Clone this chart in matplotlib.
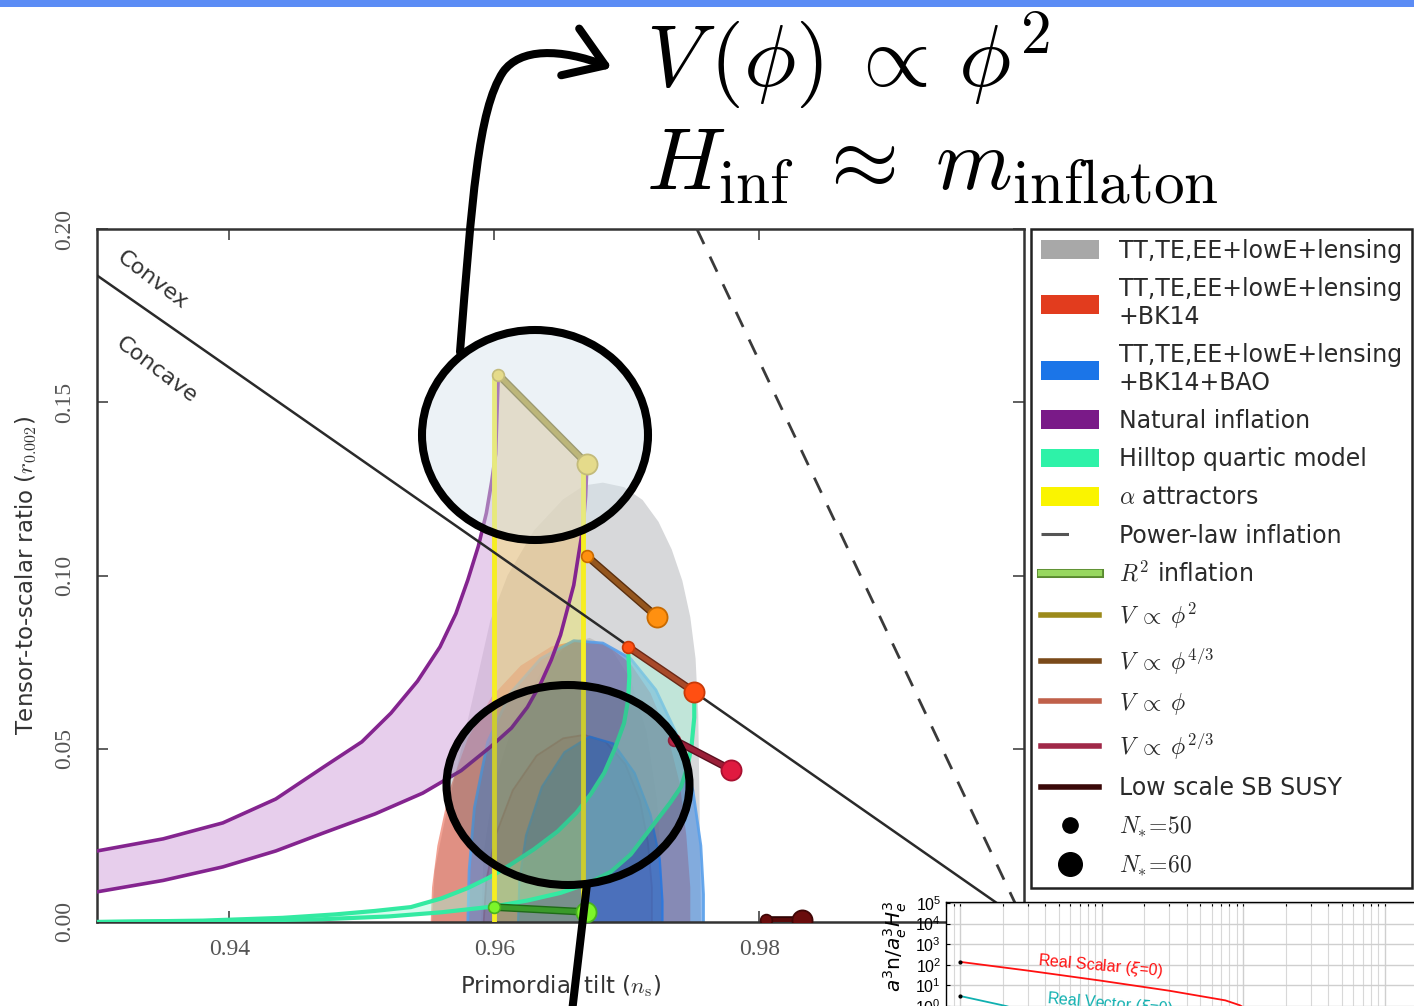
import matplotlib
matplotlib.use('Agg')
import matplotlib.pyplot as plt
from matplotlib.patches import Ellipse, Patch, FancyArrowPatch, Rectangle
from matplotlib.lines import Line2D
from matplotlib.path import Path
import matplotlib.patheffects as pe
from matplotlib.ticker import NullLocator, FixedLocator

plt.rcParams['mathtext.fontset'] = 'cm'
plt.rcParams['font.family'] = ['DejaVu Sans']

W, H = 1414, 1006

# ---------------- data ----------------
x_ticks = [0.94, 0.96, 0.98]
y_ticks = [0.00, 0.05, 0.10, 0.15, 0.20]

gray95_ns = [0.9553, 0.9555, 0.9563, 0.9572, 0.9584, 0.9597, 0.9610, 0.9630, 0.9652, 0.9668,
             0.9682, 0.9698, 0.9712, 0.9724, 0.9734, 0.9742, 0.9748, 0.9752, 0.9754, 0.9755, 0.9756]
gray95_r = [0.000, 0.015, 0.030, 0.045, 0.065, 0.087, 0.100, 0.113, 0.122, 0.1260,
            0.1268, 0.1255, 0.1218, 0.1155, 0.1075, 0.0985, 0.0880, 0.0760, 0.0600, 0.0350, 0.000]
gray68_ns = [0.9590, 0.9592, 0.9600, 0.9615, 0.9635, 0.9655, 0.9672, 0.9688, 0.9703, 0.9715, 0.9723, 0.9726, 0.9727]
gray68_r = [0.000, 0.020, 0.040, 0.058, 0.072, 0.080, 0.082, 0.079, 0.070, 0.055, 0.035, 0.015, 0.000]

red95_ns = [0.9552, 0.9553, 0.9557, 0.9566, 0.9580, 0.9598, 0.9620, 0.9643, 0.9665,
            0.9685, 0.9703, 0.9718, 0.9731, 0.9740, 0.9745, 0.9748, 0.9748]
red95_r = [0.000, 0.010, 0.022, 0.038, 0.053, 0.065, 0.074, 0.0795, 0.0815,
           0.0800, 0.0745, 0.066, 0.054, 0.040, 0.025, 0.010, 0.000]
red68_ns = [0.9592, 0.9594, 0.9601, 0.9614, 0.9632, 0.9652, 0.9668, 0.9684, 0.9699, 0.9710, 0.9716, 0.9719, 0.9719]
red68_r = [0.000, 0.012, 0.025, 0.038, 0.048, 0.0530, 0.0540, 0.0520, 0.0455, 0.0350, 0.0230, 0.010, 0.000]

blue95_ns = [0.9580, 0.9581, 0.9585, 0.9595, 0.9612, 0.9635, 0.9660, 0.9682, 0.9703,
             0.9722, 0.9738, 0.9750, 0.9756, 0.9758, 0.9758]
blue95_r = [0.000, 0.015, 0.033, 0.052, 0.066, 0.076, 0.0812, 0.0805, 0.0760,
            0.0670, 0.0540, 0.0380, 0.0220, 0.008, 0.000]
blue68_ns = [0.9618, 0.9619, 0.9624, 0.9636, 0.9653, 0.9672, 0.9690, 0.9706, 0.9718, 0.9725, 0.9727, 0.9727]
blue68_r = [0.000, 0.012, 0.025, 0.039, 0.049, 0.0535, 0.0515, 0.0430, 0.0310, 0.0180, 0.006, 0.000]

nat50_ns = [0.9300, 0.9350, 0.9395, 0.9435, 0.9471, 0.9500, 0.9522, 0.9542, 0.9559, 0.9571,
            0.9580, 0.9588, 0.9594, 0.9598, 0.9601, 0.9603]
nat50_r = [0.0205, 0.0240, 0.0286, 0.0355, 0.0447, 0.0520, 0.0603, 0.0695, 0.0794, 0.0890,
           0.0987, 0.1085, 0.1180, 0.1270, 0.1350, 0.1580]
nat60_ns = [0.9300, 0.9350, 0.9395, 0.9435, 0.9471, 0.9510, 0.9546, 0.9575, 0.9597, 0.9613,
            0.9625, 0.9635, 0.9643, 0.9650, 0.9655, 0.9660, 0.9663, 0.9667, 0.9669, 0.9670]
nat60_r = [0.0087, 0.0120, 0.0159, 0.0205, 0.0257, 0.0312, 0.0372, 0.0437, 0.0505, 0.0560,
           0.0620, 0.0688, 0.0756, 0.0828, 0.0900, 0.0972, 0.1045, 0.1140, 0.1230, 0.1322]

hillA_ns = [0.9300, 0.9380, 0.9440, 0.9480, 0.9510, 0.9537, 0.9560, 0.9580, 0.9597, 0.9612,
            0.9630, 0.9648, 0.9662, 0.9673, 0.9683, 0.9691, 0.9698, 0.9701, 0.9702, 0.9701]
hillA_r = [0.0000, 0.0004, 0.0012, 0.0022, 0.0032, 0.0043, 0.0068, 0.0098, 0.0130, 0.0165,
           0.0210, 0.0262, 0.0315, 0.0370, 0.0430, 0.0500, 0.0574, 0.0640, 0.0710, 0.0794]
hillB_ns = [0.9300, 0.9400, 0.9470, 0.9520, 0.9560, 0.9600, 0.9625, 0.9650, 0.9670, 0.9688,
            0.9703, 0.9713, 0.9724, 0.9733, 0.9741, 0.9746, 0.9749, 0.9751, 0.9751]
hillB_r = [0.0000, 0.0003, 0.0008, 0.0016, 0.0028, 0.0045, 0.0062, 0.0084, 0.0110, 0.0145,
           0.0195, 0.0245, 0.0300, 0.0345, 0.0390, 0.0450, 0.0510, 0.0590, 0.0664]

alpha_ns = [0.9600, 0.9667]

convex_ns = [0.93, 1.00]
convex_r = [0.1866, 0.0]
powerlaw_ns = [0.9753, 1.00]
powerlaw_r = [0.20, 0.0]

# models: (ns, r) at N*=50 and N*=60
phi2_ns, phi2_r = [0.9603, 0.9670], [0.1580, 0.1322]
phi43_ns, phi43_r = [0.9670, 0.9723], [0.1056, 0.0880]
phi1_ns, phi1_r = [0.9701, 0.9751], [0.0794, 0.0664]
phi23_ns, phi23_r = [0.9736, 0.9779], [0.0525, 0.0439]
r2_ns, r2_r = [0.9600, 0.9669], [0.0043, 0.0029]
susy_ns, susy_r = [0.9805, 0.9832], [0.0006, 0.0006]

legend_labels = ['TT,TE,EE+lowE+lensing', 'TT,TE,EE+lowE+lensing\n+BK14',
                 'TT,TE,EE+lowE+lensing\n+BK14+BAO', 'Natural inflation',
                 'Hilltop quartic model', r'$\alpha$ attractors', 'Power-law inflation',
                 r'$R^2$ inflation', r'$V\;\propto\;\phi^2$', r'$V\;\propto\;\phi^{4/3}$',
                 r'$V\;\propto\;\phi$', r'$V\;\propto\;\phi^{2/3}$', 'Low scale SB SUSY',
                 r'$N_{*}\!=\!50$', r'$N_{*}\!=\!60$']

# inset (bottom right)
scal_x = [1, 3, 9.7, 30, 75, 95, 200]
scal_y = [140, 53, 17.5, 5.6, 1.9, 1.1, 0.05]
vec_x = [1, 2.13, 5]
vec_y = [3.1, 1.0, 0.15]
inset_yticks = [1e-3, 1e-2, 1e-1, 1e0, 1e1, 1e2, 1e3, 1e4, 1e5]

# ---------------- figure ----------------
fig = plt.figure(figsize=(W / 100, H / 100), dpi=100)
ax = fig.add_axes([97 / W, 1 - 922 / H, 927 / W, 693 / H])
ax.set_xlim(0.93, 1.0)
ax.set_ylim(0, 0.2)

def contour(ns, r, fc, alpha, ec=None, lw=1.2, z=1, ealpha=0.9):
    ax.fill(ns, r, fc=fc, alpha=alpha, ec='none', lw=0, zorder=z)
    if ec:
        ax.plot(ns, r, color=ec, lw=lw, alpha=ealpha, zorder=z)

contour(gray95_ns, gray95_r, '#b6b8bc', 0.55, z=1)
contour(gray68_ns, gray68_r, '#9a9a9a', 0.35, z=1)
contour(red95_ns, red95_r, '#e8563c', 0.55, z=1.1)
contour(red68_ns, red68_r, '#d83a20', 0.35, ec='#c8402a', lw=1.3, z=1.2)
contour(blue95_ns, blue95_r, '#3d86e0', 0.55, ec='#5aa0ea', lw=2.0, z=1.3)
contour(blue68_ns, blue68_r, '#1e6ad0', 0.55, ec='#2a78e0', lw=1.6, z=1.4)

# natural inflation band
ax.fill(nat50_ns + nat60_ns[::-1], nat50_r + nat60_r[::-1], fc='#d8aee0', alpha=0.6, ec='none', zorder=2)
ax.plot(nat50_ns, nat50_r, color='#84248f', lw=2.6, zorder=4)
ax.plot(nat60_ns, nat60_r, color='#84248f', lw=2.6, zorder=4)

# hilltop band
ax.fill(hillA_ns + hillB_ns[::-1], hillA_r + hillB_r[::-1], fc='#a8f5d8', alpha=0.45, ec='none', zorder=2)
ax.plot(hillA_ns, hillA_r, color='#33eaa2', lw=3, zorder=4)
ax.plot(hillB_ns, hillB_r, color='#33eaa2', lw=3, zorder=4)

# alpha attractors
ax.fill([alpha_ns[0], alpha_ns[0], alpha_ns[1], alpha_ns[1]], [0, phi2_r[0], phi2_r[1], 0],
        fc='#fff200', alpha=0.25, ec='none', zorder=2.5)
for a, rt in zip(alpha_ns, phi2_r):
    ax.plot([a, a], [0, rt], color='#f6ee22', lw=3.5, zorder=4.5)

# convex / concave and power law
ax.plot(convex_ns, convex_r, color='#2a2a2a', lw=1.8, zorder=5)
ax.plot(powerlaw_ns, powerlaw_r, color='#3a3a3a', lw=2.0, dashes=(6, 5), zorder=5)
ax.text(0.93416, 0.1853, 'Convex', rotation=-37, ha='center', va='center', fontsize=16, color='#333333', zorder=5)
ax.text(0.93454, 0.1593, 'Concave', rotation=-37, ha='center', va='center', fontsize=16, color='#333333', zorder=5)

models = [
    (phi2_ns, phi2_r, '#a8921e', '#6e5e10', '#f2d43c', '#b49a20'),
    (phi43_ns, phi43_r, '#94561e', '#5a3010', '#ff9010', '#c86a00'),
    (phi1_ns, phi1_r, '#a84a2a', '#6a2a18', '#ff4f12', '#c83a08'),
    (phi23_ns, phi23_r, '#9a1f38', '#5a0f1f', '#e01a40', '#a81030'),
    (r2_ns, r2_r, '#3a9a2a', '#1f6a18', '#7cf52a', '#48b020'),
    (susy_ns, susy_r, '#5a0a0a', '#300404', '#6a0c0c', '#400606'),
]
for ns, r, lc, dc, mfc, mec in models:
    ax.plot(ns, r, color=lc, lw=3.5, zorder=6, solid_capstyle='round',
            path_effects=[pe.Stroke(linewidth=5.5, foreground=dc), pe.Normal()])
    ax.plot(ns[0], r[0], 'o', ms=8.5, mfc=mfc, mec=mec, mew=1.2, zorder=7)
    ax.plot(ns[1], r[1], 'o', ms=14.5, mfc=mfc, mec=mec, mew=1.3, zorder=7)

ax.set_xticks(x_ticks)
ax.set_xticklabels([f'{v:.2f}' for v in x_ticks])
ax.set_yticks(y_ticks)
ax.set_yticklabels([f'{v:.2f}' for v in y_ticks])
ax.tick_params(direction='in', length=8, width=1.2, top=True, right=True, colors='#444444',
               labelsize=17, labelcolor='#555555')
ax.tick_params(axis='x', pad=12)
ax.tick_params(axis='y', pad=16, labelrotation=90)
for lbl in ax.get_xticklabels() + ax.get_yticklabels():
    lbl.set_family('Liberation Serif')
for lbl in ax.get_yticklabels():
    lbl.set_va('center')
for s in ax.spines.values():
    s.set_linewidth(1.8)
    s.set_color('#333333')
ax.set_xlabel(r'Primordial tilt ($n_{\rm s}$)', fontsize=16.5, color='#333333')
ax.xaxis.set_label_coords(0.5, -0.074)
ax.set_ylabel(r'Tensor-to-scalar ratio ($r_{0.002}$)', fontsize=16.5, color='#333333')
ax.yaxis.set_label_coords(-0.063, 0.5)

# legend
pl = [pe.Stroke(linewidth=6.5, foreground='#5a8a30'), pe.Normal()]
handles = [
    Patch(fc='#a8a8a8', ec='none'), Patch(fc='#e23c1e', ec='none'), Patch(fc='#1b75e8', ec='none'),
    Patch(fc='#7a1a88', ec='none'), Patch(fc='#2ef2a8', ec='none'), Patch(fc='#faf400', ec='none'),
    Line2D([], [], color='#555555', lw=2.2, dashes=(9, 14, 2, 20)),
    Line2D([], [], color='#98d860', lw=4.5, path_effects=pl),
    Line2D([], [], color='#9c8a1a', lw=4),
    Line2D([], [], color='#7a4a1a', lw=4),
    Line2D([], [], color='#c0604a', lw=4),
    Line2D([], [], color='#a02848', lw=4),
    Line2D([], [], color='#3a0808', lw=4),
    Line2D([], [], ls='none', marker='o', color='k', ms=11),
    Line2D([], [], ls='none', marker='o', color='k', ms=17),
]
leg = fig.legend(handles, legend_labels, loc='upper left', bbox_to_anchor=(1031 / W, 1 - 229 / H),
                 borderaxespad=0, frameon=True, fancybox=False, edgecolor='#222222', fontsize=17,
                 handlelength=2.45, handleheight=0.85, handletextpad=0.85, labelspacing=0.6,
                 borderpad=0.42, framealpha=1)
leg.get_frame().set_linewidth(1.8)
for t in leg.get_texts():
    t.set_color('#2a2a2a')

# inset
axi = fig.add_axes([946 / W, 1 - 1068 / H, 554 / W, 166 / H], zorder=5)
axi.set_xscale('log')
axi.set_yscale('log')
axi.set_xlim(0.796, 6546)
axi.set_ylim(1e-3, 10 ** 5.048)
axi.yaxis.set_major_locator(FixedLocator(inset_yticks))
axi.yaxis.set_minor_locator(NullLocator())
axi.grid(True, which='major', color='#cfcfcf', lw=1.0)
axi.grid(True, which='minor', axis='x', color='#d8d8d8', lw=0.8)
axi.tick_params(which='both', direction='in', top=True, right=True, length=3, width=0.8, labelsize=11.5)
axi.tick_params(axis='x', labelbottom=False)
for lbl in axi.get_yticklabels():
    lbl.set_family('Liberation Sans')
for s in axi.spines.values():
    s.set_linewidth(1.0)
axi.plot(scal_x, scal_y, color='#ff1010', lw=1.3, zorder=3)
axi.plot(vec_x, vec_y, color='#10b0b0', lw=1.3, zorder=3)
axi.plot([scal_x[0], vec_x[0]], [scal_y[0], vec_y[0]], 'o', color='k', ms=2, zorder=4)
axi.text(3.5, 100, r'Real Scalar ($\xi$=0)', color='#ff1010', fontsize=11.5, rotation=-5,
         rotation_mode='anchor', ha='left', va='baseline', family='Liberation Sans',
         math_fontfamily='dejavusans')
axi.text(4.1, 1.46, r'Real Vector ($\xi$=0)', color='#10b0b0', fontsize=11.5, rotation=-5,
         rotation_mode='anchor', ha='left', va='baseline', family='Liberation Sans',
         math_fontfamily='dejavusans')
axi.set_ylabel(r'$a^3\mathrm{n}/a_e^3H_e^3$', fontsize=14.5, math_fontfamily='dejavusans')
axi.yaxis.set_label_coords(-0.066, 0.73)

# overlay annotations
ov = fig.add_axes([0, 0, 1, 1], zorder=20)
ov.set_xlim(0, W)
ov.set_ylim(H, 0)
ov.axis('off')
ov.patch.set_alpha(0)
ov.add_patch(Rectangle((0, 0), W, 7, color='#5b8cf5', lw=0))
ov.add_patch(Ellipse((535, 435), 226, 210, fc='#d6e4ec', alpha=0.45, ec='none'))
ov.add_patch(Ellipse((535, 435), 226, 210, fc='none', ec='black', lw=5.8))
ov.add_patch(Ellipse((568, 785), 243, 200, fc='#3a5560', alpha=0.22, ec='none'))
ov.add_patch(Ellipse((568, 785), 243, 200, fc='none', ec='black', lw=5.8))
ov.plot([587, 572], [884, 1012], color='black', lw=5.8, solid_capstyle='butt')
verts = [(460, 352), (472, 200), (478, 110), (503, 72), (520, 48), (560, 48), (612, 68)]
codes = [Path.MOVETO, Path.CURVE4, Path.CURVE4, Path.CURVE4, Path.CURVE4, Path.CURVE4, Path.CURVE4]
arrow = FancyArrowPatch(path=Path(verts, codes), arrowstyle='->,head_length=0.9,head_width=0.6',
                        mutation_scale=30, lw=5.8, color='black', transform=ov.transData,
                        capstyle='round', joinstyle='round')
ov.add_patch(arrow)
ov.text(646, 86, r'$V\,(\phi)\:\propto\,\phi^2$', fontsize=63, va='baseline', ha='left')
ov.text(646, 190, r'$H_{\rm inf}\;\approx\;m_{\rm inflaton}$', fontsize=63, va='baseline', ha='left')

fig.savefig('out.png', dpi=100)
